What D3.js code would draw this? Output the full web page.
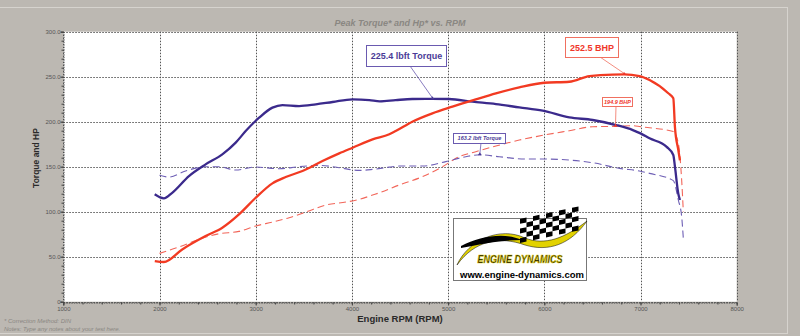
<!DOCTYPE html>
<html><head><meta charset="utf-8">
<script src="https://cdn.jsdelivr.net/npm/d3@7"></script>
<style>
html,body{margin:0;padding:0;background:#bcb8b2;}
svg{display:block;font-family:"Liberation Sans",Arial,sans-serif;}
</style></head><body>
<svg id="c" width="800" height="336"></svg>
<script>
// ---- data ----
const torqueRpm = [1950,2045,2132,2306,2479,2653,2792,2896,3035,3174,3278,3451,3625,3799,4007,4181,4290,4455,4628,4837,5010,5253,5497,5740,5983,6260,6503,6747,6920,7000,7094,7272,7341,7358,7393,7410];
const torqueVal = [119.3,114.8,121,139.6,152.6,163.7,176.7,189.6,204.4,215.6,218.5,217.4,219.3,221.9,224.8,224,222.6,224,225.2,225.4,225.2,222.2,219.6,215.9,212.2,204.8,201.9,196.3,190.7,187,181.5,172,163,150,120,113];
const hpRpm = [1951,2045,2236,2479,2653,2826,3000,3174,3312,3486,3694,3868,4007,4215,4389,4455,4628,4837,5045,5288,5497,5740,6000,6260,6469,6712,6830,6990,7094,7289,7341,7358,7393,7410];
const hpVal = [45.2,44.1,58.1,72.9,82.2,97,115.5,131.5,138.5,145.2,156.3,164.8,171.1,180.4,186,189.6,200,209.3,216.7,224.8,231.5,238.1,243.3,244.4,250.7,252.4,252.5,250.7,246.3,231.6,226,194,168.5,157];
const torque2Rpm = [2000,2097,2271,2479,2618,2792,3000,3243,3451,3660,3868,4076,4215,4389,4490,4733,4976,5184,5330,5531,5809,6000,6260,6503,6781,7000,7094,7341,7393,7428,7445];
const torque2Val = [140.4,138.5,145.2,150,150,146.3,149.6,147.8,150,151.5,148.9,145.9,147,149.5,150.7,150.7,155.6,161.1,163.2,161.1,158.5,158.5,157.4,154.4,148.1,145,142.6,134.5,113,94.5,70.5];
const hp2Rpm = [2000,2201,2410,2618,2826,3000,3174,3347,3521,3729,3938,4076,4215,4300,4490,4733,4941,5115,5288,5497,5740,6000,6260,6503,6740,6920,7000,7094,7341,7393,7428,7445];
const hp2Val = [53.7,60.7,69.3,75.5,78.1,84.1,88.5,93.3,99.6,107.4,110.7,113.7,118.5,121.5,129.6,138.9,150,161.1,166.7,173,179.6,185.2,190,194.4,194.9,195.6,194.5,193.3,189,176,135,100];
const xTicks = [1000,2000,3000,4000,5000,6000,7000,8000];
const yTicks = [0,50,100,150,200,250,300];
const peakLabels = ["225.4 lbft Torque","252.5 BHP","163.2 lbft Torque","194.9 BHP"];
const peakRpm = [4837,6830,5330,6740];
const peakVal = [225.4,252.5,163.2,194.9];

// ---- chart ----
const svg = d3.select("#c");
const x = d3.scaleLinear().domain([1000,8000]).range([63.3,736.7]);
const y = d3.scaleLinear().domain([0,300]).range([301.7,31.7]);

// frame lines
svg.append("rect").attr("x",0).attr("y",0).attr("width",800).attr("height",336).attr("fill","#bcb8b2");
svg.append("line").attr("x1",0).attr("x2",788).attr("y1",7.5).attr("y2",7.5).attr("stroke","#d6d3ce");
svg.append("line").attr("x1",787.5).attr("x2",787.5).attr("y1",7.5).attr("y2",333).attr("stroke","#d6d3ce");
svg.append("line").attr("x1",0).attr("x2",788).attr("y1",333.5).attr("y2",333.5).attr("stroke","#d6d3ce");

// plot area
svg.append("rect").attr("x",x(1000)).attr("y",y(300)).attr("width",x(8000)-x(1000)).attr("height",y(0)-y(300)).attr("fill","#fff");

const grid = svg.append("g").attr("stroke","#555").attr("stroke-width",1).attr("stroke-dasharray","1.5,1.5");
grid.selectAll(".gx").data(xTicks).join("line").attr("x1",d=>Math.round(x(d))+0.5).attr("x2",d=>Math.round(x(d))+0.5).attr("y1",y(300)).attr("y2",y(0));
grid.selectAll(".gy").data(yTicks).join("line").attr("y1",d=>Math.round(y(d))+0.5).attr("y2",d=>Math.round(y(d))+0.5).attr("x1",x(1000)).attr("x2",x(8000));

// axes
const yAxis = d3.axisLeft(y).tickValues(yTicks).tickSize(3).tickFormat(d=>d===0?"0":d.toFixed(1));
const gy = svg.append("g").attr("transform",`translate(${Math.round(x(1000))+0.5},0)`).call(yAxis);
const yMinor = d3.axisLeft(y).tickValues(d3.range(0,301,10)).tickSize(2).tickFormat("");
svg.append("g").attr("transform",`translate(${Math.round(x(1000))+0.5},0)`).call(yMinor).call(g=>g.select(".domain").remove());
const xAxis = d3.axisBottom(x).tickValues(xTicks).tickSize(3).tickFormat(d3.format("d"));
const gx = svg.append("g").attr("transform",`translate(0,${Math.round(y(0))+0.5})`).call(xAxis);
const xMinor = d3.axisBottom(x).tickValues(d3.range(1000,8001,200)).tickSize(2).tickFormat("");
svg.append("g").attr("transform",`translate(0,${Math.round(y(0))+0.5})`).call(xMinor).call(g=>g.select(".domain").remove());
svg.selectAll(".domain").attr("stroke","#444").attr("stroke-dasharray","1.5,1");
svg.selectAll(".tick line").attr("stroke","#444");
svg.selectAll(".tick text").attr("fill","#555").attr("font-size","6px").attr("font-family","Liberation Sans, Arial, sans-serif");
gy.selectAll(".tick text").attr("x",-3);
gx.selectAll(".tick text").attr("y",4);

// titles
svg.append("text").attr("x",400).attr("y",26).attr("text-anchor","middle").attr("font-size","9px").attr("font-weight","bold").attr("font-style","italic").attr("fill","#8a8782").text("Peak Torque* and Hp* vs. RPM");
svg.append("text").attr("transform","translate(39,158) rotate(-90)").attr("text-anchor","middle").attr("font-size","8.5px").attr("font-weight","bold").attr("fill","#2a2a2a").text("Torque and HP");
svg.append("text").attr("x",400).attr("y",322).attr("text-anchor","middle").attr("font-size","9.5px").attr("font-weight","bold").attr("fill","#2a2a2a").text("Engine RPM (RPM)");
svg.append("text").attr("x",4).attr("y",323).attr("font-size","6px").attr("font-style","italic").attr("fill","#8a8782").text("* Correction Method: DIN");
svg.append("text").attr("x",4).attr("y",331).attr("font-size","6px").attr("font-style","italic").attr("fill","#8a8782").text("Notes: Type any notes about your test here.");

// logo
const logo = svg.append("g");
logo.append("rect").attr("x",453.5).attr("y",218.5).attr("width",133).attr("height",62).attr("fill","#fff").attr("stroke","#777");
logo.append("path").attr("d","M457,265 C468,240 500,226 525,238 C545,246 565,238 587,221 C570,245 548,252 525,245 C500,236 475,240 457,265Z").attr("fill","#e2d200").attr("stroke","#000").attr("stroke-width",0.5);
logo.append("path").attr("d","M461,246 C480,236 505,232 522,240 C505,240 485,243 461,248Z").attr("fill","#000");
const cg = logo.append("g");
for(let r=0;r<5;r++){for(let c=0;c<9;c++){ if((r+c)%2===0){
  const cx=520+c*6.5, cy=243-r*4.8-c*1.4;
  cg.append("path").attr("d",`M${cx},${cy} l6.5,-1.4 l0,-4.8 l-6.5,1.4Z`).attr("fill","#000");
}}}
logo.append("text").attr("x",520).attr("y",263).attr("text-anchor","middle").attr("font-size","11px").attr("font-weight","bold").attr("font-style","italic").attr("fill","#000").attr("stroke","#e2d200").attr("stroke-width",0.6).attr("textLength",85).attr("lengthAdjust","spacingAndGlyphs").text("ENGINE DYNAMICS");
logo.append("text").attr("x",522).attr("y",278).attr("text-anchor","middle").attr("font-size","9px").attr("font-weight","bold").attr("fill","#000").attr("textLength",124).attr("lengthAdjust","spacingAndGlyphs").text("www.engine-dynamics.com");

// lines
const mk = (xs,ys)=>xs.map((r,i)=>[r,ys[i]]);
const line = d3.line().x(d=>x(d[0])).y(d=>y(d[1])).curve(d3.curveMonotoneX);
const series = [
  {xs:hp2Rpm, ys:hp2Val, color:"#f2665a", w:1.1, dash:"7,4"},
  {xs:torque2Rpm, ys:torque2Val, color:"#6e5fb5", w:1.1, dash:"7,4"},
  {xs:torqueRpm, ys:torqueVal, color:"#3b2a8c", w:2.3, dash:null},
  {xs:hpRpm, ys:hpVal, color:"#f23a22", w:2.3, dash:null}
];
series.forEach(s=>{
  svg.append("path").datum(mk(s.xs,s.ys)).attr("d",line).attr("fill","none").attr("stroke",s.color).attr("stroke-width",s.w).attr("stroke-dasharray",s.dash).attr("stroke-linejoin","round");
});

// peak annotations
const ann = [
  {bx:366,by:45,bw:80,bh:21,fs:9,italic:false,color:"#4b3b97",border:"#6a5ab0",lx:410,ly:66},
  {bx:565,by:37,bw:53,bh:20,fs:9,italic:false,color:"#f0362a",border:"#f07060",lx:600,ly:57},
  {bx:453,by:133,bw:52,bh:10,fs:5.5,italic:true,color:"#4b3b97",border:"#6a5ab0",lx:481,ly:143},
  {bx:602,by:97,bw:30,bh:9,fs:5.5,italic:true,color:"#f0362a",border:"#f07060",lx:616,ly:106}
];
ann.forEach((a,i)=>{
  const px=x(peakRpm[i]), py=y(peakVal[i]);
  svg.append("line").attr("x1",a.lx).attr("y1",a.ly).attr("x2",px).attr("y2",py-1).attr("stroke",a.border).attr("stroke-width",0.8);
  svg.append("path").attr("d",`M${px-2},${py+0.5} L${px},${py-2.5} L${px+2},${py+0.5}Z`).attr("fill",a.color);
  svg.append("rect").attr("x",a.bx+0.5).attr("y",a.by+0.5).attr("width",a.bw).attr("height",a.bh).attr("fill","#fff").attr("stroke",a.border).attr("stroke-width",1);
  svg.append("text").attr("x",a.bx+a.bw/2+0.5).attr("y",a.by+a.bh/2+a.fs*0.36+0.5).attr("text-anchor","middle").attr("font-size",a.fs+"px").attr("font-weight","bold").attr("font-style",a.italic?"italic":"normal").attr("fill",a.color).text(peakLabels[i]);
});
</script>
</body></html>
